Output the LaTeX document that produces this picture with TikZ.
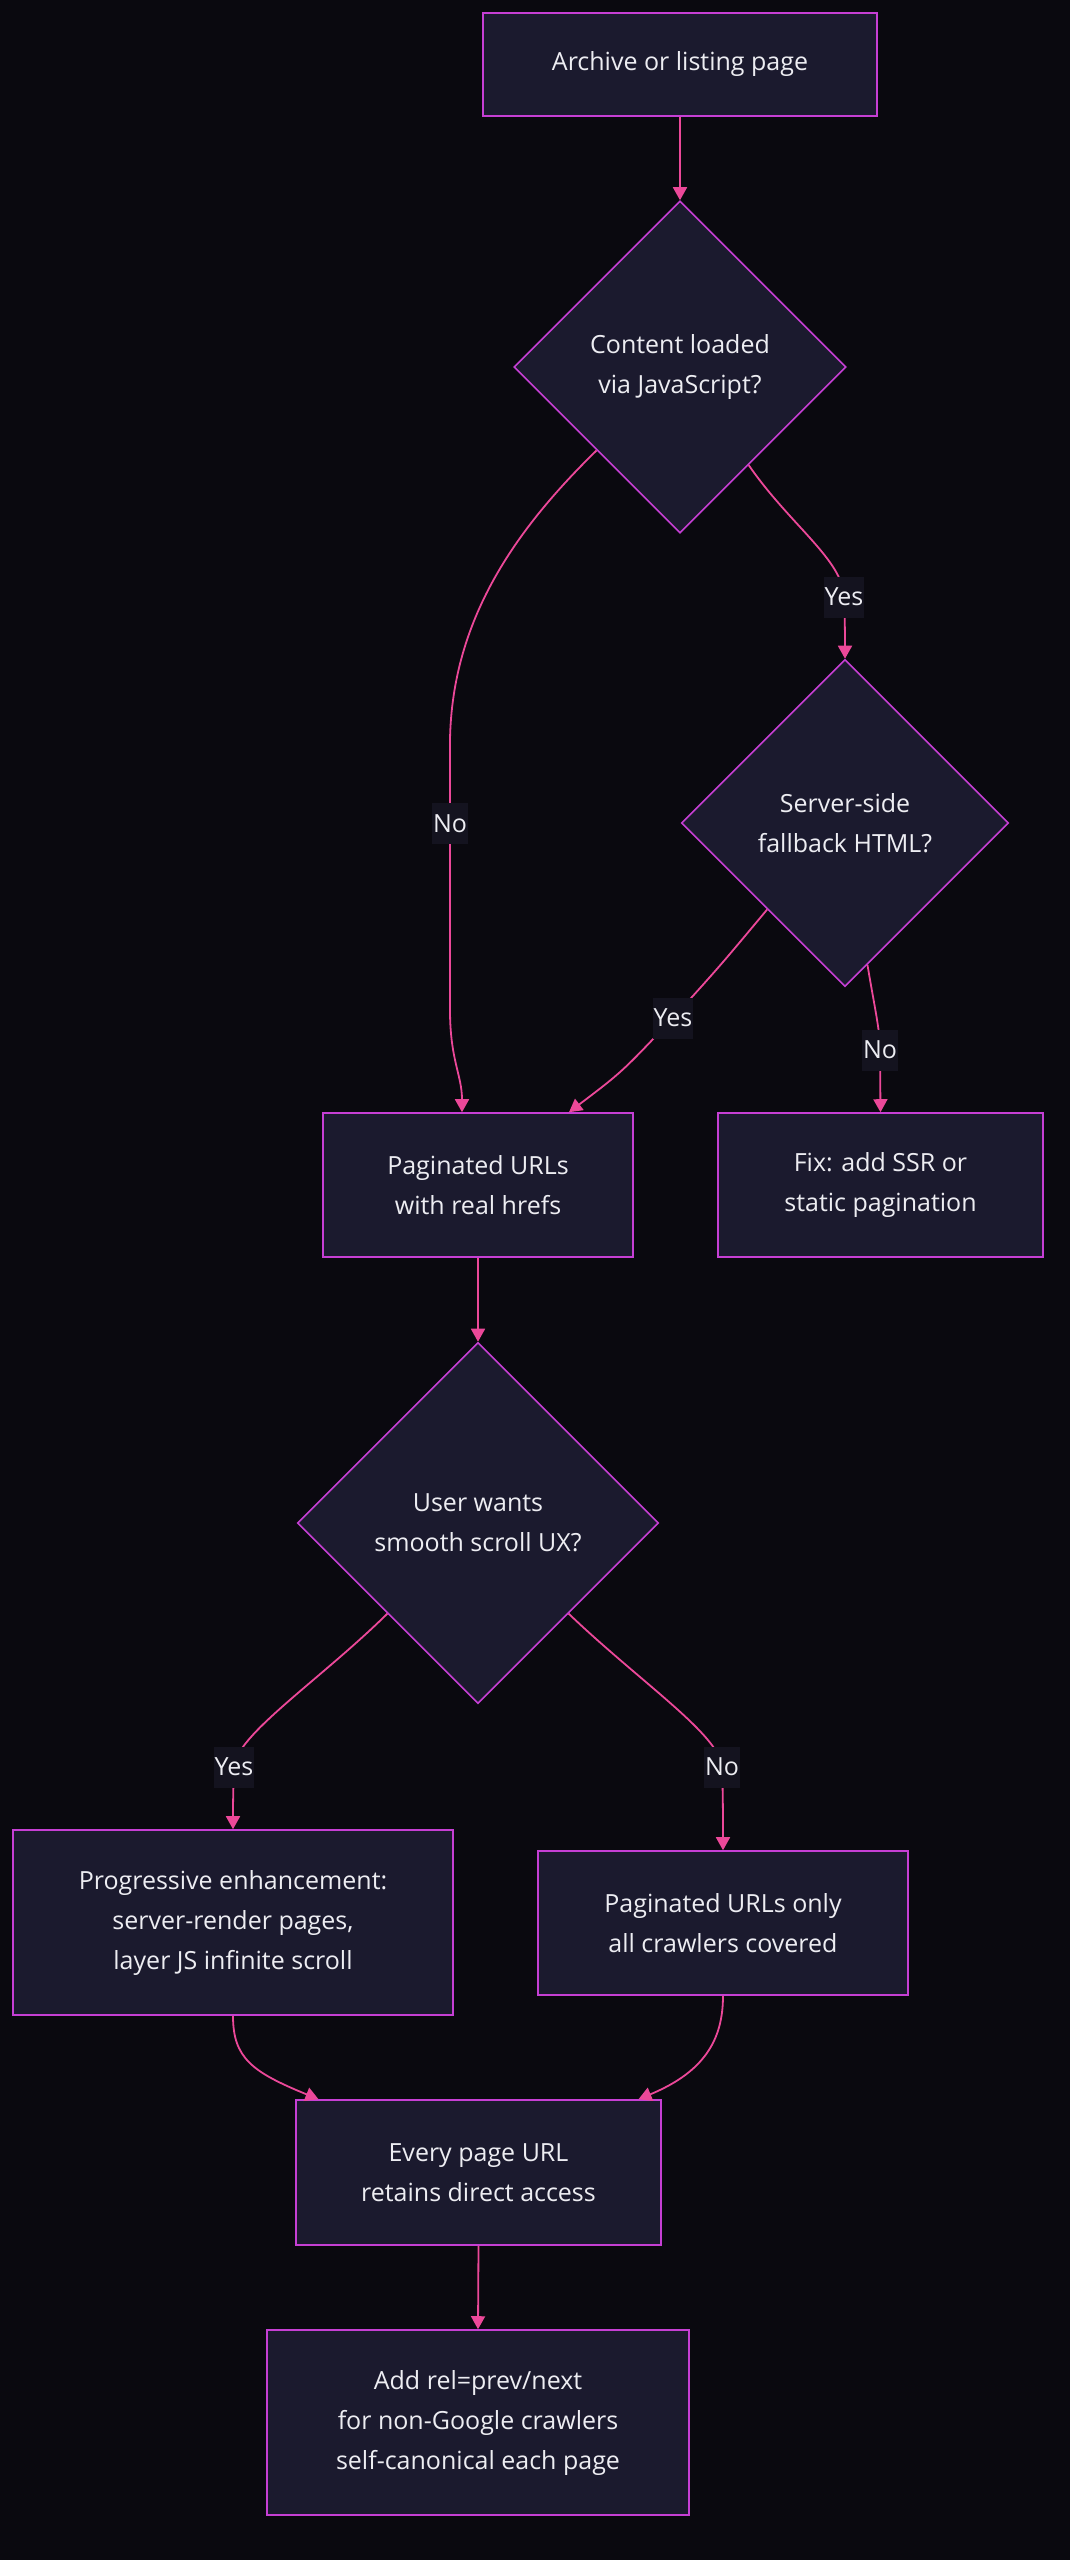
\documentclass[tikz,border=0pt]{standalone}
\usepackage{fontspec}
\setmainfont{Open Sans}
\usetikzlibrary{shapes.geometric,arrows.meta}
\definecolor{bg}{HTML}{0A090F}
\definecolor{nodefill}{HTML}{1B1A2E}
\definecolor{nodeline}{HTML}{C63FD4}
\definecolor{edgecol}{HTML}{EC4899}
\definecolor{lblfill}{HTML}{14131F}
\definecolor{txt}{HTML}{EDEDF2}
\begin{document}
\begin{tikzpicture}[x=1pt,y=-1pt,
  font=\fontsize{25}{40}\selectfont,
  box/.style={draw=nodeline, fill=nodefill, line width=1.6pt, text=txt, align=center, inner sep=0pt},
  decision/.style={diamond, draw=nodeline, fill=nodefill, line width=1.6pt, text=txt, align=center, inner sep=0pt, minimum width=#1, minimum height=#1},
  flow/.style={draw=edgecol, line width=1.8pt, -{Triangle[width=14pt,length=13pt]}},
  lbl/.style={fill=lblfill, text=txt, inner xsep=1pt, inner ysep=0pt, minimum height=41pt}
]
\fill[bg] (0,0) rectangle (1070,2560);
\useasboundingbox (0,0) rectangle (1070,2560);

\node[box, minimum width=394pt, minimum height=103pt] (A) at (680,64.5) {Archive or listing page};
\node[decision=332pt] (B) at (680,367) {Content loaded\\via JavaScript?};
\node[decision=327pt] (C) at (845,823) {Server-side\\fallback HTML?};
\node[box, minimum width=310pt, minimum height=144pt] (D) at (478,1185) {Paginated URLs\\with real hrefs};
\node[box, minimum width=325pt, minimum height=144pt] (E) at (880.5,1185) {Fix: add SSR or\\static pagination};
\node[decision=361pt] (F) at (478,1523) {User wants\\smooth scroll UX?};
\node[box, minimum width=440pt, minimum height=185pt] (G) at (233,1922.5) {Progressive enhancement:\\server-render pages,\\layer JS infinite scroll};
\node[box, minimum width=370pt, minimum height=144pt] (H) at (723,1923) {Paginated URLs only\\all crawlers covered};
\node[box, minimum width=365pt, minimum height=145pt] (I) at (478.5,2172.5) {Every page URL\\retains direct access};
\node[box, minimum width=422pt, minimum height=185pt] (J) at (478,2422.5) {Add rel=prev/next\\for non-Google crawlers\\self-canonical each page};

\draw[flow] (A.south) -- (B.north);
\draw[flow] (B.south west) .. controls (515,530) and (452,620) .. (450,740) -- node[lbl,pos=0.31]{No} (450,1010) .. controls (450,1060) and (462,1075) .. ([xshift=-16pt]D.north);
\draw[flow] (B.-55) .. controls (790,525) and (843,560) .. (844,597) node[lbl]{Yes} .. controls (845,622) and (845,640) .. (C.north);
\draw[flow] (C.-132) .. controls (720,966) .. (673,1018) node[lbl]{Yes} .. controls (622,1072) .. ([xshift=91pt]D.north);
\draw[flow] (C.-81) .. controls (875,1010) and (880,1030) .. (880,1050) node[lbl]{No} -- (E.north);
\draw[flow] (D.south) -- (F.north);
\draw[flow] (F.south west) .. controls (320,1680) and (236,1735) .. (234,1767) node[lbl]{Yes} .. controls (233,1795) and (233,1810) .. (G.north);
\draw[flow] (F.south east) .. controls (640,1682) and (720,1735) .. (722,1767) node[lbl]{No} .. controls (723,1795) and (723,1820) .. (H.north);
\draw[flow] (G.south) .. controls (233,2058) and (252,2072) .. ([xshift=-160pt]I.north);
\draw[flow] (H.south) .. controls (723,2040) and (704,2072) .. ([xshift=160pt]I.north);
\draw[flow] (I.south) -- (J.north);
\end{tikzpicture}
\end{document}
